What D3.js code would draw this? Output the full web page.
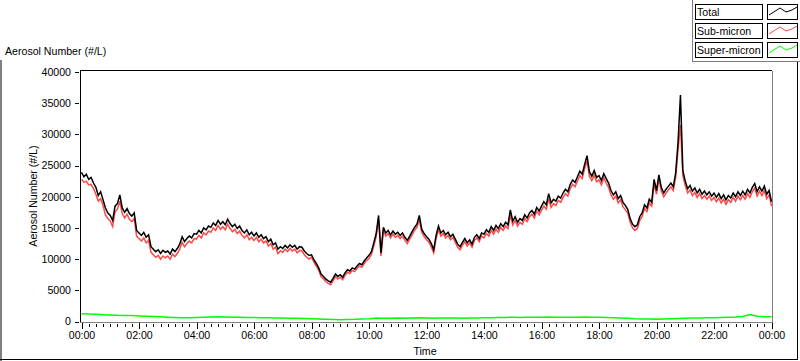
<html>
<style>
    body {
        margin: 0;
        background: #fff;
    }

    svg text {
        font-family: "Liberation Sans", Arial, sans-serif;
        font-size: 10.6px;
        fill: #000;
    }

    .axis path {
        display: none;
    }

    .axis line {
        stroke: #000;
        shape-rendering: crispEdges;
    }

    .frame {
        fill: none;
        shape-rendering: crispEdges;
    }

    .series {
        fill: none;
        stroke-width: 1.5;
        stroke-linejoin: miter;
    }
</style>
<svg width="800" height="361"></svg>
<script src="https://d3js.org/d3.v7.min.js"></script>
<script>
    // readings every 5 minutes from 00:00 to 24:00, #/L
    var totalStepMin = 5;
    var totalNumber = [
        23900, 23200, 23600, 22800, 23100, 22200, 21500, 20200, 20800, 19500, 18200, 17400,
        17000, 16200, 18500, 18900, 20300, 18200, 17500, 18100, 17300, 16900, 17400, 14600,
        14200, 13800, 14300, 13500, 13900, 12000, 11600, 11200, 11500, 10900, 11400, 11100,
        11300, 10800, 11600, 11200, 11700, 12400, 13600, 12800, 13300, 13700, 13400, 14100,
        14000, 14600, 14200, 15000, 14700, 15300, 15100, 15800, 15400, 16200, 15600, 16000,
        15500, 16400, 15700, 15200, 15600, 14900, 15300, 14600, 14200, 14700, 13900, 14300,
        13700, 14200, 13500, 13900, 13300, 13600, 12800, 13200, 12300, 12600, 11600, 12000,
        11700, 12200, 11800, 12300, 11900, 12200, 11600, 12000, 11900, 11300, 10900, 10600,
        10700, 9900, 9300, 8600, 7600, 7200, 6800, 6500, 6300, 6900, 7600, 7200,
        7500, 7100, 7800, 8300, 8100, 8600, 8400, 8900, 9300, 9100, 9700, 10200,
        10600, 11200, 12600, 14100, 17000, 11000, 15100, 14200, 14600, 13900, 14500, 14000,
        14300, 13800, 14200, 13500, 13000, 13700, 14400, 15100, 15600, 17000, 14800, 14100,
        13600, 13200, 12500, 11500, 13800, 15300, 14200, 14600, 13900, 14300, 13600, 14000,
        13200, 12400, 12000, 12700, 13300, 12600, 13100, 12400, 13500, 13900, 13300, 14200,
        14000, 14700, 14300, 15200, 14600, 15400, 14900, 15700, 15200, 15900, 15500, 17900,
        16100, 16800, 15900, 16500, 16200, 17100, 16600, 17400, 17800, 17200, 18300, 17700,
        18500, 19200, 18700, 20500, 19000, 19600, 19300, 20100, 19800, 20600, 21200, 20800,
        22000, 22700, 22300, 23200, 24100, 23600, 25200, 26600, 24000, 23300, 24200, 23100,
        23400, 22600, 23700, 22900, 22200, 21000, 20300, 20800, 19700, 20200, 19100, 18600,
        18000, 16500, 15600, 15200, 15500, 16800, 17400, 18700, 18200, 19600, 19100, 22800,
        21000, 23500, 21500, 20600, 21200, 21700, 22200, 21600, 23800, 28800, 36300, 24200,
        22500, 21300, 21800, 20900, 21400, 20600, 21200, 20400, 20900, 20300, 20800, 20100,
        20600, 19900, 20500, 19700, 20300, 19500, 20200, 19800, 20600, 20000, 20800, 20200,
        20900, 20300, 21200, 20600, 21500, 22100, 20800, 21600, 20900, 21700, 20400, 21000,
        19200
    ];
    var subMicron = [
        22800, 22300, 22500, 21900, 22000, 21300, 20400, 19300, 19700, 18600, 17100, 16500,
        16100, 15200, 17600, 18000, 19300, 17300, 16600, 17200, 16400, 16000, 16500, 13700,
        13300, 12900, 13400, 12600, 13000, 11100, 10700, 10300, 10600, 10000, 10500, 10200,
        10500, 10000, 10800, 10400, 10900, 11600, 12700, 12000, 12500, 12900, 12600, 13300,
        13200, 13800, 13400, 14200, 13900, 14500, 14300, 15000, 14600, 15400, 14800, 15200,
        14700, 15600, 14900, 14400, 14800, 14100, 14500, 13800, 13400, 13900, 13100, 13500,
        13000, 13500, 12800, 13200, 12600, 12900, 12100, 12500, 11600, 11900, 10900, 11300,
        11100, 11600, 11200, 11700, 11300, 11600, 11000, 11400, 11300, 10700, 10300, 10000,
        10300, 9500, 8900, 8200, 7200, 6800, 6400, 6100, 5900, 6500, 7200, 6800,
        7100, 6700, 7400, 7900, 7700, 8200, 8000, 8500, 8900, 8700, 9300, 9800,
        10100, 10700, 12100, 13600, 16300, 10500, 14600, 13700, 14100, 13400, 14000, 13500,
        13800, 13300, 13700, 13000, 12500, 13200, 13900, 14600, 15100, 16300, 14300, 13600,
        13100, 12700, 12000, 11000, 13300, 14700, 13700, 14100, 13400, 13800, 13100, 13500,
        12700, 11900, 11500, 12200, 12800, 12100, 12600, 11900, 13000, 13400, 12800, 13700,
        13400, 14100, 13700, 14600, 14000, 14800, 14300, 15100, 14600, 15300, 14900, 17100,
        15500, 16200, 15300, 15900, 15600, 16500, 16000, 16800, 17200, 16600, 17700, 17100,
        17800, 18500, 18000, 19700, 18300, 18900, 18600, 19400, 19100, 19900, 20500, 20100,
        21300, 22000, 21600, 22500, 23400, 22900, 24500, 25800, 23300, 22600, 23500, 22400,
        22700, 21900, 23000, 22200, 21500, 20300, 19600, 20100, 19000, 19500, 18400, 17900,
        17400, 15900, 15000, 14600, 14900, 16200, 16800, 18100, 17600, 19000, 18500, 22100,
        20400, 22800, 20900, 20000, 20600, 21100, 21600, 21000, 23100, 27500, 31500, 23400,
        21800, 20600, 21100, 20200, 20700, 19900, 20500, 19700, 20200, 19600, 20100, 19400,
        19900, 19200, 19800, 19000, 19600, 18800, 19500, 19100, 19900, 19300, 20100, 19500,
        20200, 19600, 20500, 19900, 20800, 21400, 20100, 20900, 20200, 21000, 19700, 20300,
        18500
    ];
    // readings every 15 minutes
    var superStepMin = 15;
    var superMicron = [
        1250, 1200, 1150, 1100, 1050, 1000, 980, 950, 900, 850, 800, 760,
        700, 650, 620, 600, 650, 700, 720, 750, 720, 700, 680, 650,
        640, 620, 600, 580, 550, 540, 520, 480, 450, 400, 350, 320,
        300, 330, 350, 400, 450, 550, 520, 540, 560, 520, 580, 600,
        560, 540, 580, 560, 550, 520, 560, 580, 600, 620, 640, 660,
        680, 650, 700, 680, 700, 720, 700, 680, 700, 680, 720, 700,
        680, 650, 620, 580, 520, 450, 420, 400, 380, 420, 450, 500,
        520, 560, 580, 600, 620, 650, 700, 720, 800, 1100, 850, 780,
        760
    ];
    var seriesNames = ["Total", "Sub-micron", "Super-micron"];
    var seriesColors = ["#000000", "#ff4848", "#00ff00"];
    var yTicks = [0, 5000, 10000, 15000, 20000, 25000, 30000, 35000, 40000];

    var svg = d3.select("svg");
    var day0 = new Date(2000, 0, 1),
        day1 = new Date(2000, 0, 2);

    var x = d3.scaleTime().domain([day0, day1]).range([81.5, 771.5]);
    var y = d3.scaleLinear().domain([0, 40000]).range([321.5, 72]);

    function atMinute(m) {
        return d3.timeMinute.offset(day0, m);
    }

    // outer panel edges
    svg.append("path").attr("class", "frame").attr("stroke", "#808080").attr("stroke-width", 2)
        .attr("d", "M1,60V361");
    svg.append("path").attr("class", "frame").attr("stroke", "#808080")
        .attr("d", "M692.5,0V61.5H800");
    svg.append("path").attr("class", "frame").attr("stroke", "#000")
        .attr("d", "M0,359.5H797.5V62");

    // plot frame
    svg.append("path").attr("class", "frame").attr("stroke", "#808080")
        .attr("d", "M80,322.5H772.5V71");
    svg.append("path").attr("class", "frame").attr("stroke", "#000")
        .attr("d", "M80.5,322V70.5H772");

    // axes
    svg.append("g").attr("class", "axis")
        .attr("transform", "translate(79,0)")
        .call(d3.axisLeft(y).tickValues(yTicks).tickSize(4).tickPadding(4).tickFormat(d3.format("d")));

    svg.append("g").attr("class", "axis")
        .attr("transform", "translate(0,323.5)")
        .call(d3.axisBottom(x).ticks(d3.timeMinute.every(15)).tickSize(3.5).tickFormat(""));

    svg.append("g").attr("class", "axis")
        .attr("transform", "translate(0,323)")
        .call(d3.axisBottom(x).ticks(d3.timeHour.every(2)).tickSize(5.5).tickPadding(3)
            .tickFormat(d3.timeFormat("%H:%M")));

    svg.append("text").attr("x", 5).attr("y", 55).text("Aerosol Number (#/L)");
    svg.append("text").attr("transform", "translate(37,196) rotate(-90)")
        .attr("text-anchor", "middle").text("Aerosol Number (#/L)");
    svg.append("text").attr("x", 425).attr("y", 355).attr("text-anchor", "middle").text("Time");

    // series
    var line = d3.line().x(d => x(d.t)).y(d => y(d.v));

    function toPoints(values, step) {
        return values.map((v, i) => ({ t: atMinute(i * step), v: v }));
    }

    var plot = svg.append("g");
    plot.append("path").attr("class", "series").attr("stroke", seriesColors[2])
        .attr("stroke-width", 2)
        .attr("d", line(toPoints(superMicron, superStepMin)));
    plot.append("path").attr("class", "series").attr("stroke", seriesColors[1])
        .attr("d", line(toPoints(subMicron, totalStepMin)));
    plot.append("path").attr("class", "series").attr("stroke", seriesColors[0])
        .attr("d", line(toPoints(totalNumber, totalStepMin)));

    // legend
    var legend = svg.append("g").selectAll("g")
        .data(seriesNames)
        .enter()
        .append("g")
        .attr("transform", (d, i) => "translate(0," + (4 + i * 19) + ")");

    legend.append("rect").attr("x", 695.5).attr("y", 0.5).attr("width", 67).attr("height", 15)
        .attr("fill", "#fff").attr("stroke", "#000").attr("class", "frame");
    legend.append("text").attr("x", 697).attr("y", 12).text(d => d);
    legend.append("rect").attr("x", 767.5).attr("y", 0.5).attr("width", 30).attr("height", 15)
        .attr("fill", "#fff").attr("stroke", "#000").attr("class", "frame");
    legend.append("polyline")
        .attr("points", "769,11 780,4 786,8 792,6 797,3")
        .attr("fill", "none")
        .attr("stroke", (d, i) => seriesColors[i]);
</script>

</html>
